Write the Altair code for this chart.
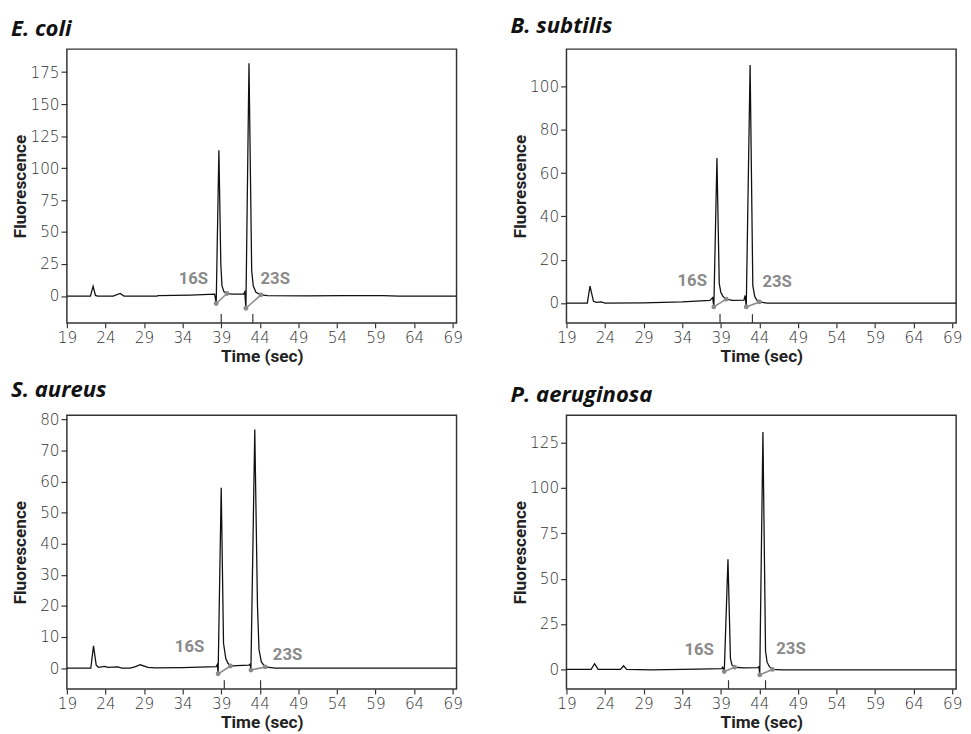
import altair as alt
import pandas as pd

# ---------------- data ----------------
X_DOMAIN = [19, 69.5]
X_TICKS = [19, 24, 29, 34, 39, 44, 49, 54, 59, 64, 69]

species = ["E. coli", "B. subtilis", "S. aureus", "P. aeruginosa"]

ecoli_t = [19.0, 22.05, 22.4, 22.7, 23.0, 25.0, 25.9, 26.4, 30.7, 30.8, 35.0, 38.15, 38.35, 38.7,
           38.95, 39.1, 39.35, 39.75, 40.5, 41.9, 42.05, 42.2, 42.6, 42.95, 43.15, 43.5, 44.15,
           45.0, 50.0, 55.0, 60.0, 62.0, 69.5]
ecoli_v = [0.0, 0.0, 7.7, 0.5, 0.0, 0.0, 2.0, 0.0, 0.0, 0.4, 0.8, 1.5, -5.8, 114.0,
           25.0, 8.0, 3.5, 2.0, 1.5, 1.6, 3.2, -9.5, 182.0, 20.0, 8.0, 3.0, 1.0,
           0.3, 0.2, 0.4, 0.4, 0.0, 0.0]

bsub_t = [19.0, 21.7, 22.05, 22.5, 22.9, 23.5, 24.0, 29.0, 34.0, 37.6, 37.95, 38.1, 38.5, 38.8,
          39.0, 39.3, 39.7, 40.5, 42.0, 42.15, 42.3, 42.8, 43.15, 43.4, 43.7, 44.0, 45.0, 69.5]
bsub_v = [0.0, 0.0, 7.8, 0.8, 0.3, 0.5, 0.0, 0.1, 0.5, 1.2, 2.5, -1.8, 67.0, 9.0,
          5.0, 3.0, 1.8, 1.2, 1.3, 3.5, -1.8, 110.0, 8.0, 3.0, 1.2, 0.5, 0.0, 0.0]

saur_t = [19.0, 22.1, 22.45, 22.8, 23.1, 23.9, 24.3, 25.6, 26.1, 27.2, 27.8, 28.5, 29.5, 30.5,
          34.0, 38.35, 38.5, 38.6, 39.0, 39.3, 39.6, 39.9, 40.2, 41.0, 42.6, 42.75, 42.85, 43.35,
          43.7, 43.9, 44.2, 44.7, 46.0, 69.5]
saur_v = [0.0, 0.0, 7.2, 1.0, 0.3, 0.6, 0.3, 0.4, 0.0, 0.0, 0.4, 1.1, 0.3, 0.1,
          0.2, 0.5, 1.2, -1.8, 58.0, 8.0, 3.0, 1.5, 0.7, 0.8, 1.0, 1.3, -0.6, 76.7,
          20.0, 6.0, 2.0, 0.4, 0.0, 0.0]

paer_t = [19.0, 22.2, 22.65, 23.1, 26.0, 26.4, 26.8, 30.0, 36.0, 39.1, 39.25, 39.45, 39.93, 40.25,
          40.45, 40.8, 42.0, 43.8, 43.95, 44.05, 44.46, 44.8, 45.0, 45.3, 45.7, 47.0, 55.0, 69.5]
paer_v = [0.0, 0.0, 3.2, 0.0, 0.0, 2.0, 0.0, -0.2, 0.2, 0.5, 1.2, -1.2, 60.7, 6.0,
          2.5, 1.2, 0.9, 1.0, 1.5, -3.0, 130.8, 10.0, 4.0, 1.5, 0.0, -0.3, -0.2, -0.2]

# peak baselines (gray): [16S start, 16S end, 23S start, 23S end]
ecoli_base_t = [38.35, 39.75, 42.2, 44.15]
ecoli_base_v = [-5.8, 2.0, -9.5, 1.0]
bsub_base_t = [38.1, 39.7, 42.3, 44.0]
bsub_base_v = [-1.8, 1.8, -1.8, 0.5]
saur_base_t = [38.6, 40.2, 42.85, 44.7]
saur_base_v = [-1.8, 0.7, -0.6, 0.4]
paer_base_t = [39.45, 40.8, 44.05, 45.7]
paer_base_v = [-1.2, 1.2, -3.0, 0.0]

# migration-time markers (16S, 23S)
ecoli_marks = [39.0, 43.1]
bsub_marks = [38.9, 43.1]
saur_marks = [39.4, 44.1]
paer_marks = [40.0, 44.8]

peak_names = ["16S", "23S"]
ecoli_lab_t, ecoli_lab_v = [35.4, 46.0], [13.3, 13.3]
bsub_lab_t, bsub_lab_v = [35.3, 46.3], [10.0, 9.5]
saur_lab_t, saur_lab_v = [34.9, 47.6], [6.7, 4.2]
paer_lab_t, paer_lab_v = [36.2, 48.1], [10.4, 11.0]

y_domains = [[-21, 193], [-9.2, 117.3], [-6.7, 81.3], [-10.8, 140]]
y_ticks = [[0, 25, 50, 75, 100, 125, 150, 175],
           [0, 20, 40, 60, 80, 100],
           [0, 10, 20, 30, 40, 50, 60, 70, 80],
           [0, 25, 50, 75, 100, 125]]
# distance of the panel-name baseline above the plot frame (px)
name_raise = [13.5, 16.0, 18.5, 13.5]

# ---------------- chart ----------------
W, H = 397, 279
GRAY = "#8a8a8a"


def panel(name, t, v, bt, bv, marks, lt, lv, ydom, yt, raise_px):
    x = alt.X("t:Q", scale=alt.Scale(domain=X_DOMAIN, nice=False, zero=False),
              axis=alt.Axis(values=X_TICKS, title="Time (sec)", titleY=39,
                            titleBaseline="alphabetic", labelFlush=False))
    y = alt.Y("v:Q", scale=alt.Scale(domain=ydom, nice=False, zero=False),
              axis=alt.Axis(values=yt, title="Fluorescence", titleX=-42, titleY=H / 2,
                            titleAlign="center", titleBaseline="alphabetic", titleAngle=270))
    trace = pd.DataFrame({"t": t, "v": v})
    base = pd.DataFrame({"t": bt, "v": bv, "peak": ["16S", "16S", "23S", "23S"]})
    mk = pd.DataFrame({"t": marks})
    lab = pd.DataFrame({"t": lt, "v": lv, "label": peak_names})
    nm = pd.DataFrame({"name": [name]})

    line = alt.Chart(trace).mark_line(color="#111111", strokeWidth=1.3).encode(x=x, y=y)
    seg = alt.Chart(base).mark_line(color=GRAY, strokeWidth=1.6).encode(x=x, y=y, detail="peak:N")
    pts = alt.Chart(base).mark_circle(color=GRAY, size=24, opacity=1).encode(x=x, y=y)
    rules = alt.Chart(mk).mark_rule(color="#333333", strokeWidth=1.2).encode(
        x=x, y=alt.value(H - 9), y2=alt.value(H))
    txt = alt.Chart(lab).mark_text(font="Roboto", fontWeight="bold", fontSize=17,
                                   color=GRAY).encode(x=x, y=y, text="label:N")
    ttl = alt.Chart(nm).mark_text(font="Open Sans", fontSize=22.5, fontStyle="italic",
                                  fontWeight="bold", color="#111111", align="left",
                                  baseline="alphabetic").encode(
        x=alt.value(-57), y=alt.value(-raise_px), text="name:N")
    return alt.layer(line, seg, pts, rules, txt, ttl).properties(width=W, height=H)


panels = [
    panel(species[0], ecoli_t, ecoli_v, ecoli_base_t, ecoli_base_v, ecoli_marks,
          ecoli_lab_t, ecoli_lab_v, y_domains[0], y_ticks[0], name_raise[0]),
    panel(species[1], bsub_t, bsub_v, bsub_base_t, bsub_base_v, bsub_marks,
          bsub_lab_t, bsub_lab_v, y_domains[1], y_ticks[1], name_raise[1]),
    panel(species[2], saur_t, saur_v, saur_base_t, saur_base_v, saur_marks,
          saur_lab_t, saur_lab_v, y_domains[2], y_ticks[2], name_raise[2]),
    panel(species[3], paer_t, paer_v, paer_base_t, paer_base_v, paer_marks,
          paer_lab_t, paer_lab_v, y_domains[3], y_ticks[3], name_raise[3]),
]

chart = alt.concat(*panels, columns=2, spacing={"row": 12, "column": 47}).properties(
    padding={"left": 2, "top": 0, "right": 0, "bottom": 0}
).configure_view(
    stroke="#333333", strokeWidth=1.5
).configure_axis(
    domain=False, grid=False, tickColor="#333333", tickSize=5, tickWidth=1.2,
    labelFont="DejaVu Sans", labelFontSize=15.5, labelFontWeight=300, labelColor="#333333",
    titleFont="Roboto", titleFontSize=17.5, titleFontWeight="bold", titleColor="#222222"
).configure_axisY(
    tickSize=6, labelPadding=2
).configure_axisX(
    labelPadding=3
)

chart.save("out.html", embed_options={"renderer": "svg", "actions": False})
